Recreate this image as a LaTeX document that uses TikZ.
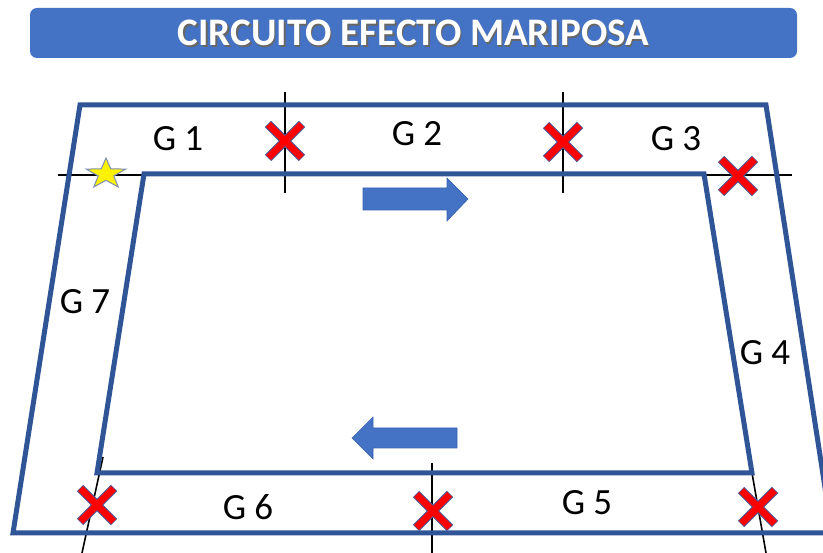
\documentclass[tikz,border=0pt]{standalone}
\usepackage{fontspec}
\setmainfont{Carlito}
\definecolor{frameblue}{HTML}{2F5597}
\definecolor{boxblue}{HTML}{4472C4}
\definecolor{arrowedge}{HTML}{3A62AE}
\definecolor{crossred}{HTML}{FF0000}
\definecolor{crossedge}{HTML}{4A5C9A}
\definecolor{staredge}{HTML}{7F8FAF}
\tikzset{
  frame/.style={draw=frameblue, line width=5pt, line join=miter},
  guide/.style={draw=black, line width=1.6pt},
  glabel/.style={inner sep=0pt, font=\fontsize{37}{37}\selectfont},
  flowarrow/.style={fill=boxblue, draw=arrowedge, line width=0.6pt},
  crossedgestyle/.style={draw=crossedge, line width=9pt},
  crossfill/.style={draw=crossred, line width=7pt},
}
% a red cross centred on the given point
\newcommand{\redcross}[1]{%
  \begin{scope}[shift={#1}]
    \draw[crossedgestyle] (-17,-17) -- (17,17) (-17,17) -- (17,-17);
    \draw[crossfill] (-16.5,-16.5) -- (16.5,16.5) (-16.5,16.5) -- (16.5,-16.5);
  \end{scope}}
\begin{document}
\begin{tikzpicture}[x=1pt, y=-1pt]
\useasboundingbox (0,0) rectangle (823,553);
\clip (0,0) rectangle (823,553);

% title bar
\node[fill=boxblue, rounded corners=7pt, minimum width=767pt, minimum height=50pt,
      inner sep=0pt] (title) at (413.5,33) {};
\node[text=black!60, font=\bfseries\fontsize{39}{39}\selectfont, inner sep=0pt]
      (titleshadow) at ([xshift=1.5pt, yshift=-1.5pt]title.center) {CIRCUITO EFECTO MARIPOSA};
\node[text=white, font=\bfseries\fontsize{39}{39}\selectfont, inner sep=0pt]
      (titletext) at (title.center) {CIRCUITO EFECTO MARIPOSA};

% corners of the two tracks
\coordinate (o1) at (80,105);
\coordinate (o2) at (766,105);
\coordinate (o3) at (832,533);
\coordinate (o4) at (13,533);
\coordinate (i1) at (144,174);
\coordinate (i2) at (704,174);
\coordinate (i3) at (752,473);
\coordinate (i4) at (97,473);

% thin black section lines
\draw[guide] (58,175) -- (792,175);
\draw[guide] (285,92) -- (285,193);
\draw[guide] (563,92) -- (563,193);
\draw[guide] (432,463) -- (432,553);
\draw[guide] (103,457) -- (82,553);
\draw[guide] (i3) -- (766,553);

% outer and inner borders
\draw[frame] (o1) -- (o2) -- (o3) -- (o4) -- cycle;
\draw[frame] (i1) -- (i2) -- (i3) -- (i4) -- cycle;

% direction arrows
\draw[flowarrow] (363,188) -- (447,188) -- (447,178) -- (468,199) -- (447,221)
      -- (447,210) -- (363,210) -- cycle;
\draw[flowarrow] (457,428) -- (373,428) -- (373,417) -- (352,438) -- (373,459)
      -- (373,448) -- (457,448) -- cycle;

% crosses
\redcross{(285,141)}
\redcross{(563,142)}
\redcross{(738,176)}
\redcross{(97,505)}
\redcross{(433,511)}
\redcross{(758,507)}

% start star
\begin{scope}[shift={(106,174)}, xscale=1.3]
  \draw[fill=yellow, draw=staredge, line width=1pt, line join=miter]
    (-90:16) \foreach \a/\r in {-54/6.3, -18/16, 18/6.3, 54/16, 90/6.3,
      126/16, 162/6.3, 198/16, 234/6.3} { -- (\a:\r) } -- cycle;
\end{scope}

% section labels
\node[glabel] (g1) at (178,139) {G 1};
\node[glabel] (g2) at (417,134) {G 2};
\node[glabel] (g3) at (676,139) {G 3};
\node[glabel] (g4) at (765,353) {G 4};
\node[glabel] (g5) at (587,503) {G 5};
\node[glabel] (g6) at (248,507) {G 6};
\node[glabel] (g7) at (85,302) {G 7};
\end{tikzpicture}
\end{document}
